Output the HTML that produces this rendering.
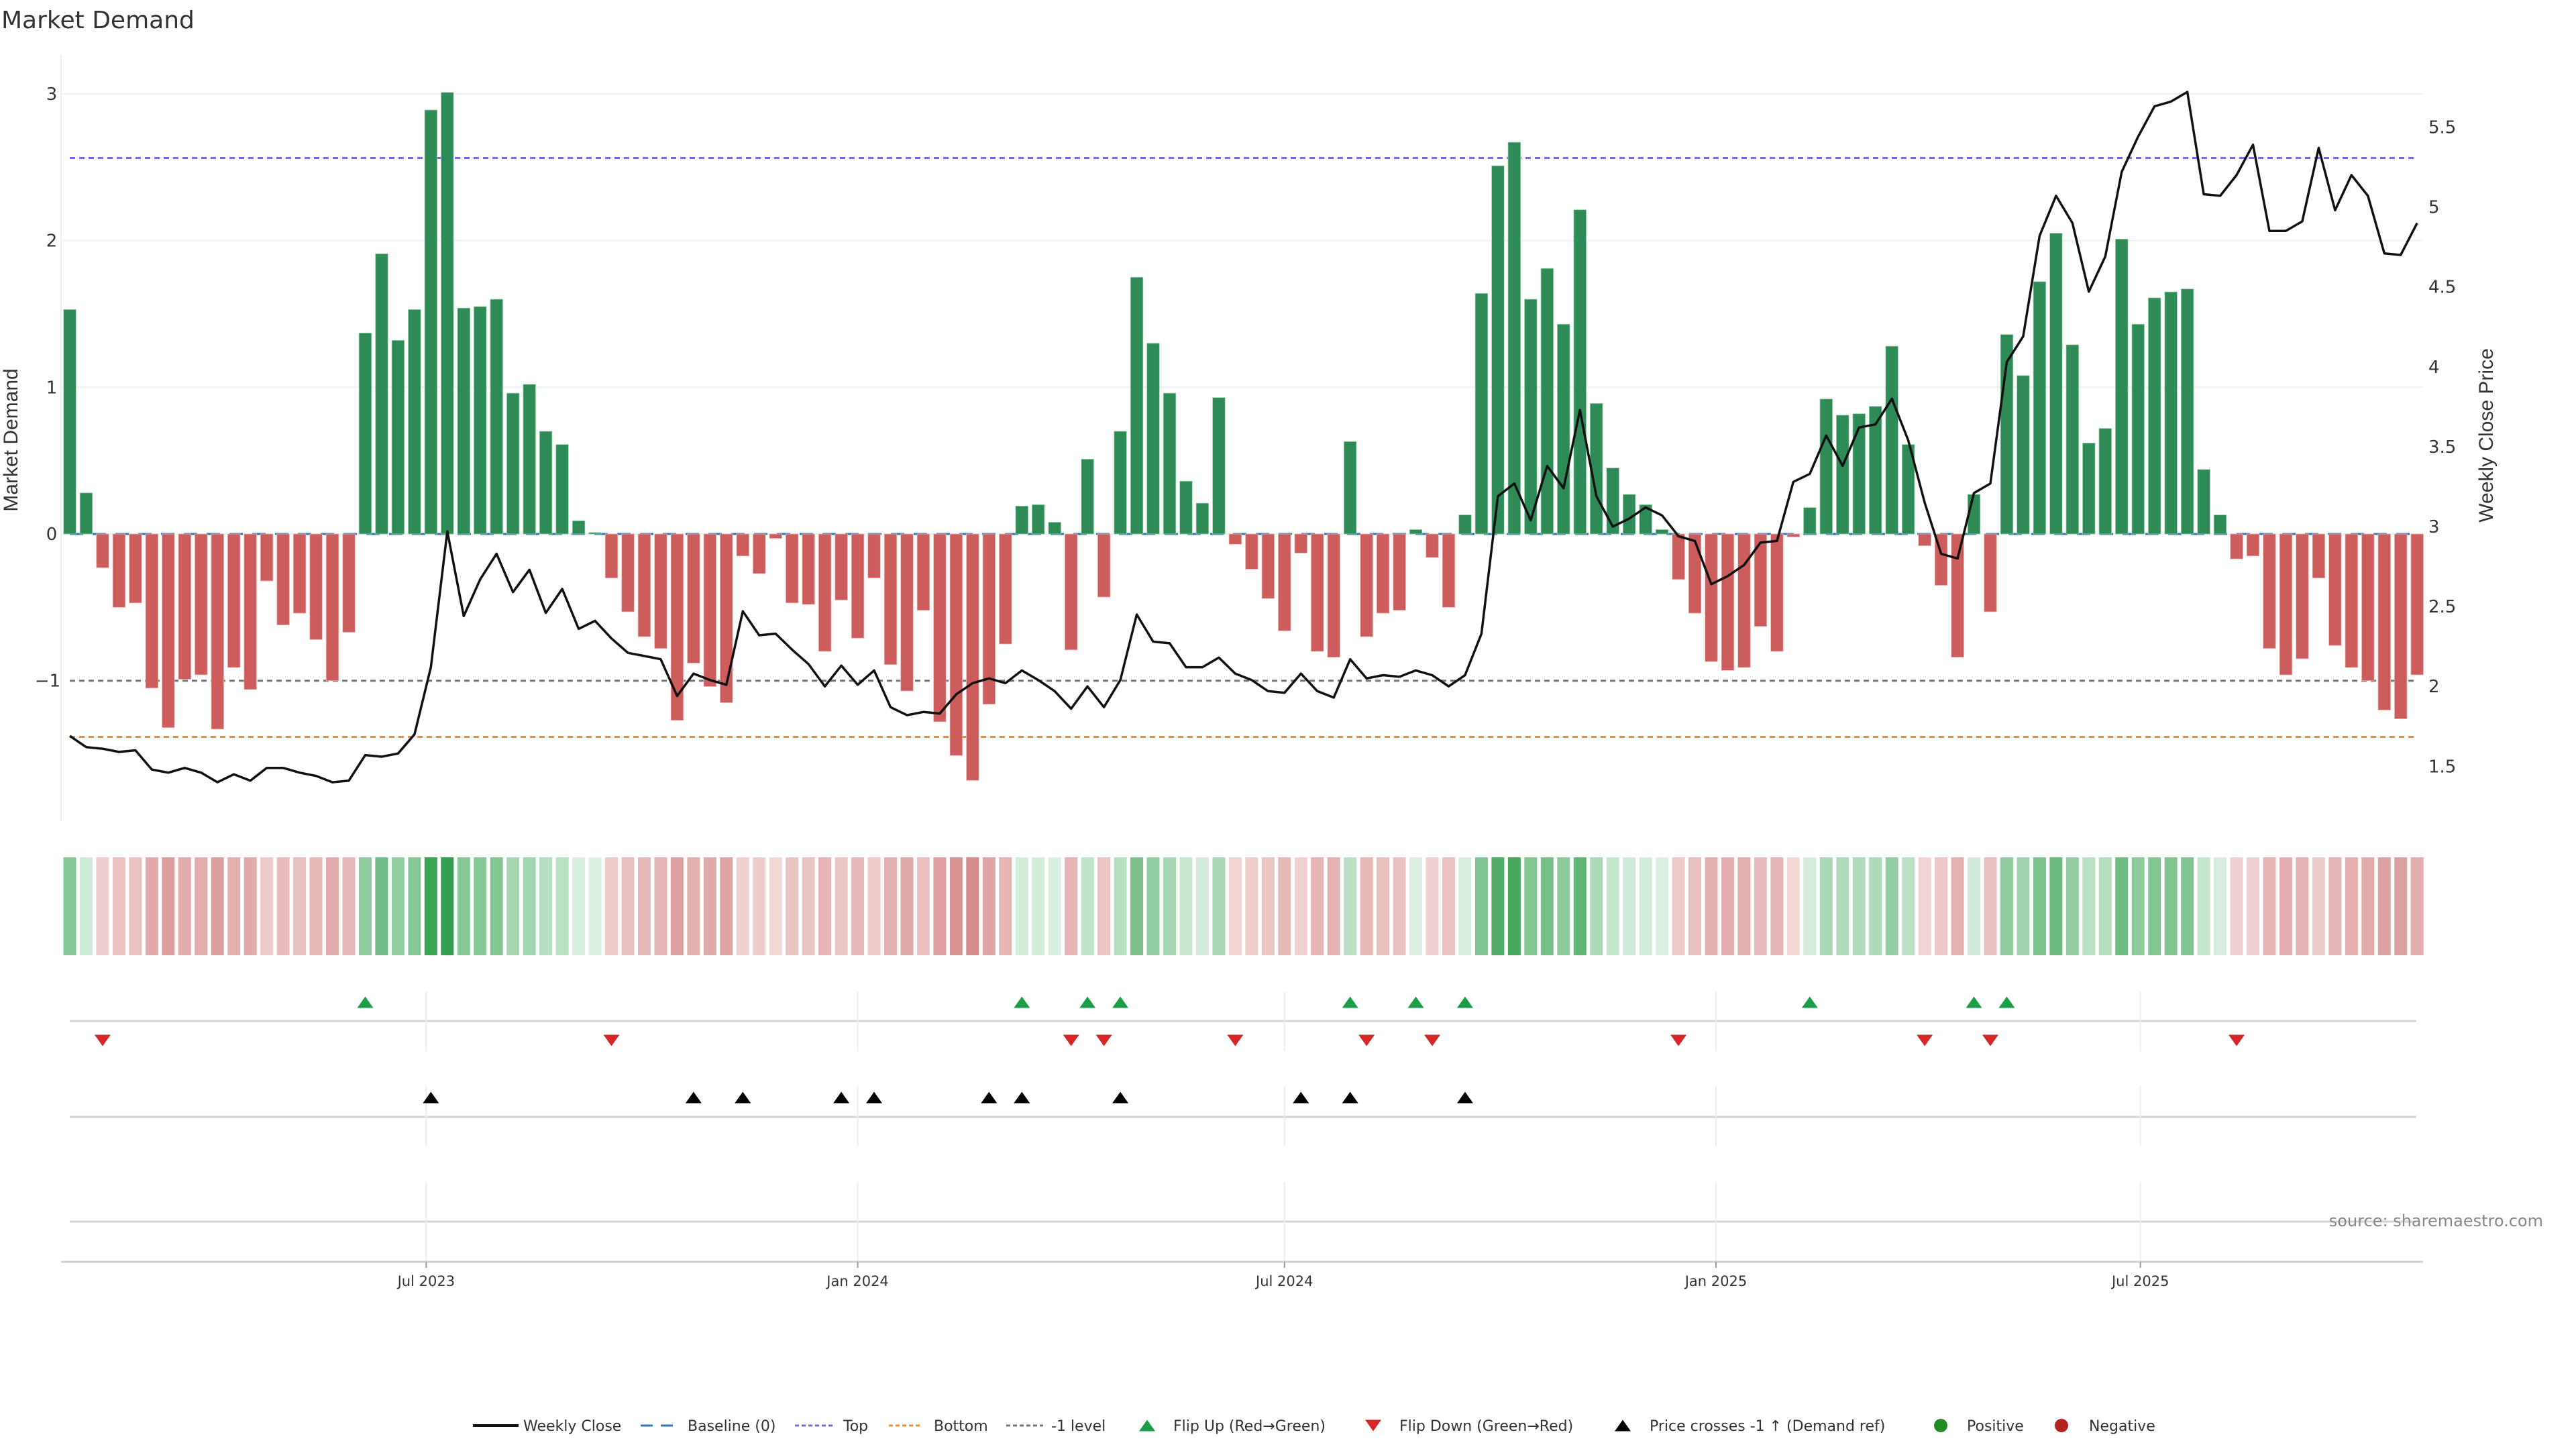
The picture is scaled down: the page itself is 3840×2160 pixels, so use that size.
<!DOCTYPE html>
<html><head><meta charset="utf-8"><title>Market Demand</title>
<style>
html,body{margin:0;padding:0;background:#fff;}
svg{display:block;}
text{font-family:"DejaVu Sans","Liberation Sans",sans-serif;}
.nar{font-family:"Liberation Sans","DejaVu Sans",sans-serif;}
</style></head>
<body>
<svg id="chart" xmlns="http://www.w3.org/2000/svg" width="3840" height="2160" viewBox="0 0 3840 2160">
  <rect x="0" y="0" width="3840" height="2160" fill="#fff"/>
  <text x="2" y="42" font-size="36" fill="#333">Market Demand</text>
  <g id="grid"></g>
  <g id="refs"></g>
  <g id="bars"></g>
  <g id="line"></g>
  <g id="heat"></g>
  <g id="marks"></g>
  <g id="axes"></g>
  <text class="nar" x="0" y="0" font-size="30" fill="#333" text-anchor="middle" transform="translate(26,656) rotate(-90)">Market Demand</text>
  <text class="nar" x="0" y="0" font-size="30" fill="#333" text-anchor="middle" transform="translate(3716,649) rotate(-90)">Weekly Close Price</text>
  <text x="3791" y="1828" font-size="24" fill="#888" text-anchor="end">source: sharemaestro.com</text>
  <g id="legend"></g>
</svg>
<script>
const demand = [1.53,0.28,-0.23,-0.5,-0.47,-1.05,-1.32,-0.99,-0.96,-1.33,-0.91,-1.06,-0.32,-0.62,-0.54,-0.72,-1.0,-0.67,
1.37,1.91,1.32,1.53,2.89,3.01,1.54,1.55,1.6,0.96,1.02,0.7,0.61,0.09,0.01,
-0.3,-0.53,-0.7,-0.78,-1.27,-0.88,-1.04,-1.15,-0.15,-0.27,-0.03,-0.47,-0.48,-0.8,-0.45,-0.71,-0.3,-0.89,-1.07,-0.52,-1.28,-1.51,-1.68,-1.16,-0.75,
0.19,0.2,0.08,-0.79,0.51,-0.43,0.7,1.75,1.3,0.96,0.36,0.21,0.93,-0.07,-0.24,-0.44,-0.66,-0.13,-0.8,-0.84,0.63,-0.7,-0.54,-0.52,0.03,-0.16,-0.5,0.13,
1.64,2.51,2.67,1.6,1.81,1.43,2.21,0.89,0.45,0.27,0.2,0.03,-0.31,-0.54,-0.87,-0.93,-0.91,-0.63,-0.8,-0.02,
0.18,0.92,0.81,0.82,0.87,1.28,0.61,-0.08,-0.35,-0.84,0.27,-0.53,1.36,1.08,1.72,2.05,1.29,0.62,0.72,2.01,1.43,1.61,1.65,1.67,0.44,0.13,
-0.17,-0.15,-0.78,-0.96,-0.85,-0.3,-0.76,-0.91,-1.0,-1.2,-1.26,-0.96];
const price = [1.69,1.62,1.61,1.59,1.60,1.48,1.46,1.49,1.46,1.40,1.45,1.41,1.49,1.49,1.46,1.44,1.40,1.41,
1.57,1.56,1.58,1.70,2.12,2.97,2.44,2.67,2.83,2.59,2.73,2.46,2.61,2.36,2.41,
2.30,2.21,2.19,2.17,1.94,2.08,2.04,2.01,2.47,2.32,2.33,2.23,2.14,2.00,2.13,2.01,2.10,1.87,1.82,1.84,1.83,1.95,2.02,2.05,2.02,
2.10,2.04,1.97,1.86,2.00,1.87,2.04,2.45,2.28,2.27,2.12,2.12,2.18,2.08,2.04,1.97,1.96,2.08,1.97,1.93,2.17,2.05,2.07,2.06,2.10,2.07,2.00,2.07,
2.33,3.19,3.27,3.04,3.38,3.24,3.73,3.19,3.00,3.05,3.12,3.07,2.94,2.91,2.64,2.69,2.76,2.90,2.91,3.28,
3.33,3.57,3.38,3.62,3.64,3.80,3.54,3.15,2.83,2.80,3.21,3.27,4.03,4.19,4.82,5.07,4.90,4.47,4.69,5.22,5.44,5.63,5.66,5.72,5.08,5.07,
5.20,5.39,4.85,4.85,4.91,5.37,4.98,5.20,5.07,4.71,4.70,4.90];
const startDate = "2023-01-30";
const xTickDates = ["2023-07-01","2024-01-01","2024-07-01","2025-01-01","2025-07-01"];
const xTickLabels = ["Jul 2023","Jan 2024","Jul 2024","Jan 2025","Jul 2025"];
const yTicks = [-1,0,1,2,3];
const yTickLabels = ["\u22121","0","1","2","3"];
const priceTicks = [1.5,2,2.5,3,3.5,4,4.5,5,5.5];
const priceTickLabels = ["1.5","2","2.5","3","3.5","4","4.5","5","5.5"];
const topLevel = [2.563];
const bottomLevel = [-1.383];
const minusLevel = [-1];

const NS = "http://www.w3.org/2000/svg";
const PL = 91, PR = 3612, PT = 81, PB = 1224;
const t0 = Date.parse(startDate);
const DAY = 86400000;
function xDate(ms){ return 104 + 24.47 * (ms - t0) / (7*DAY); }
function xIdx(i){ return xDate(t0 + i*7*DAY); }
function yD(v){ return 796 - v*218.7; }
function yP(p){ return 785 - (p-3)*238.2; }
function pFromY(y){ return 3 - (y-785)/238.2; }
function mk(tag, attrs, parent){
  const e = document.createElementNS(NS, tag);
  for (const k in attrs) e.setAttribute(k, attrs[k]);
  parent.appendChild(e); return e;
}
const G = id => document.getElementById(id);

const grid = G('grid');
yTicks.forEach((v,k)=>{
  if (v < 0) return;
  const l = mk('line',{x1:PL,x2:PR,y1:yD(v),y2:yD(v),stroke:'#eceff1','stroke-width':2},grid);
  
  
});
const refs = G('refs');
function ref(v,color,name,dash){
  const l = mk('line',{x1:104,x2:3602,y1:yD(v),y2:yD(v),stroke:color,'stroke-width':3,'stroke-dasharray':dash},refs);
  
  
}
ref(topLevel[0],'#7b68d6','top-level-line','8 6');
ref(bottomLevel[0],'#ea9030','bottom-level-line','8 6');
ref(minusLevel[0],'#777','minus-one-level-line','8 6');
const base = mk('line',{x1:104,x2:3602,y1:yD(0),y2:yD(0),stroke:'#2f78b5','stroke-width':3,'stroke-dasharray':'20 14'},refs);



const bars = G('bars');
demand.forEach((v,i)=>{
  const cx = xIdx(i), w = 18.6;
  const y0 = yD(0), y1 = yD(v);
  const r = mk('rect',{x:cx-w/2,y:Math.min(y0,y1),width:w,height:Math.max(1,Math.abs(y1-y0)),fill:v>=0?'#2e8b57':'#cd5c5c',stroke:v>=0?'#9fd3b3':'#f0b8b8','stroke-width':0.8},bars);
  
  
});

const pts = price.map((p,i)=>xIdx(i).toFixed(1)+','+yP(p).toFixed(1)).join(' ');
const pl = mk('polyline',{points:pts,fill:'none',stroke:'#111','stroke-width':3.5,'stroke-linejoin':'round'},G('line'));



function mix(a,b,t){ return 'rgb('+a.map((c,k)=>Math.round(c+(b[k]-c)*t)).join(',')+')'; }
const heat = G('heat');
demand.forEach((v,i)=>{
  let col;
  if (v >= 0) col = mix([222,241,227],[52,160,79],Math.min(1,v/3));
  else col = mix([242,216,216],[214,140,140],Math.min(1,-v/1.7));
  const c = mk('rect',{x:xIdx(i)-9.5,y:1278,width:19,height:146,fill:col},heat);
  
  
});

const marks = G('marks');
const rowLines = [1522,1665,1821];
rowLines.forEach(y=>{
  const l = mk('line',{x1:104,x2:3602,y1:y,y2:y,stroke:'#d3d3d3','stroke-width':3},marks);
  
  
});
const rowSpans = [[1478,1567],[1619,1708],[1762,1880]];
xTickDates.forEach(d=>{
  const x = xDate(Date.parse(d));
  rowSpans.forEach(s=>{
    const l = mk('line',{x1:x,x2:x,y1:s[0],y2:s[1],stroke:'#ececec','stroke-width':2},marks);
    
    
  });
});
function tri(cx,cy,up,color,name,parent){
  const h=17,w=24;
  const p = up ? `${cx-w/2},${cy+h/2} ${cx+w/2},${cy+h/2} ${cx},${cy-h/2}` : `${cx-w/2},${cy-h/2} ${cx+w/2},${cy-h/2} ${cx},${cy+h/2}`;
  const t = mk('polygon',{points:p,fill:color},parent);
  
  
}
const crossPrice = pFromY(yD(minusLevel[0]));
for (let i=1;i<demand.length;i++){
  if (demand[i-1] <= 0 && demand[i] > 0) tri(xIdx(i),1494,true,'#1a9e48','flip-up-marker',marks);
  if (demand[i-1] > 0 && demand[i] <= 0) tri(xIdx(i),1551,false,'#d62728','flip-down-marker',marks);
  if (price[i-1] < crossPrice && price[i] >= crossPrice) tri(xIdx(i),1636,true,'#000','price-cross-marker',marks);
}

const axes = G('axes');
const la = mk('line',{x1:PL,x2:PL,y1:PT,y2:PB,stroke:'#eceff1','stroke-width':2},axes);


yTicks.forEach((v,k)=>{
  const t = mk('text',{x:v<0?71:77,y:yD(v)+9,'font-size':26,fill:'#333','text-anchor':'middle'},axes);
  t.textContent = yTickLabels[k];
  
  
});
priceTicks.forEach((v,k)=>{
  const t = mk('text',{x:3620,y:yP(v)+9,'font-size':26,fill:'#333'},axes);
  t.textContent = priceTickLabels[k];
  
  
});
const xa = mk('line',{x1:PL,x2:PR,y1:1881,y2:1881,stroke:'#d0d0d0','stroke-width':3},axes);


xTickDates.forEach((d,k)=>{
  const x = xDate(Date.parse(d));
  const tk = mk('line',{x1:x,x2:x,y1:1881,y2:1890,stroke:'#999','stroke-width':2},axes);
  
  
  const t = mk('text',{x:x,y:1917,'font-size':21,fill:'#333','text-anchor':'middle'},axes);
  t.textContent = xTickLabels[k];
  
  
});

const lg = G('legend');
const LY = 2125;
function ltext(x,s){
  const t = mk('text',{x:x,y:LY+8,'font-size':22,fill:'#333'},lg);
  t.textContent = s;
  
  
}
function lline(x1,x2,color,dash,w){
  const l = mk('line',{x1:x1,x2:x2,y1:LY,y2:LY,stroke:color,'stroke-width':w,'stroke-dasharray':dash},lg);
  
  
}
lline(705,773,'#111','none',4); ltext(780,'Weekly Close');
lline(955,1008,'#2f78b5','18 12',3); ltext(1025,'Baseline (0)');
lline(1185,1244,'#7b68d6','6 4',3); ltext(1257,'Top');
lline(1325,1375,'#ea9030','6 4',3); ltext(1392,'Bottom');
lline(1500,1555,'#777','6 4',3); ltext(1567,'-1 level');
tri(1710,LY,true,'#1a9e48','legend-flip-up',lg); ltext(1749,'Flip Up (Red→Green)');
tri(2047,LY,false,'#d62728','legend-flip-down',lg); ltext(2086,'Flip Down (Green→Red)');
tri(2419,LY,true,'#000','legend-price-cross',lg); ltext(2459,'Price crosses -1 ↑ (Demand ref)');
const c1 = mk('circle',{cx:2893,cy:LY,r:10,fill:'#228b22'},lg);


ltext(2932,'Positive');
const c2 = mk('circle',{cx:3073,cy:LY,r:10,fill:'#b22222'},lg);


ltext(3114,'Negative');
</script>
</body></html>
